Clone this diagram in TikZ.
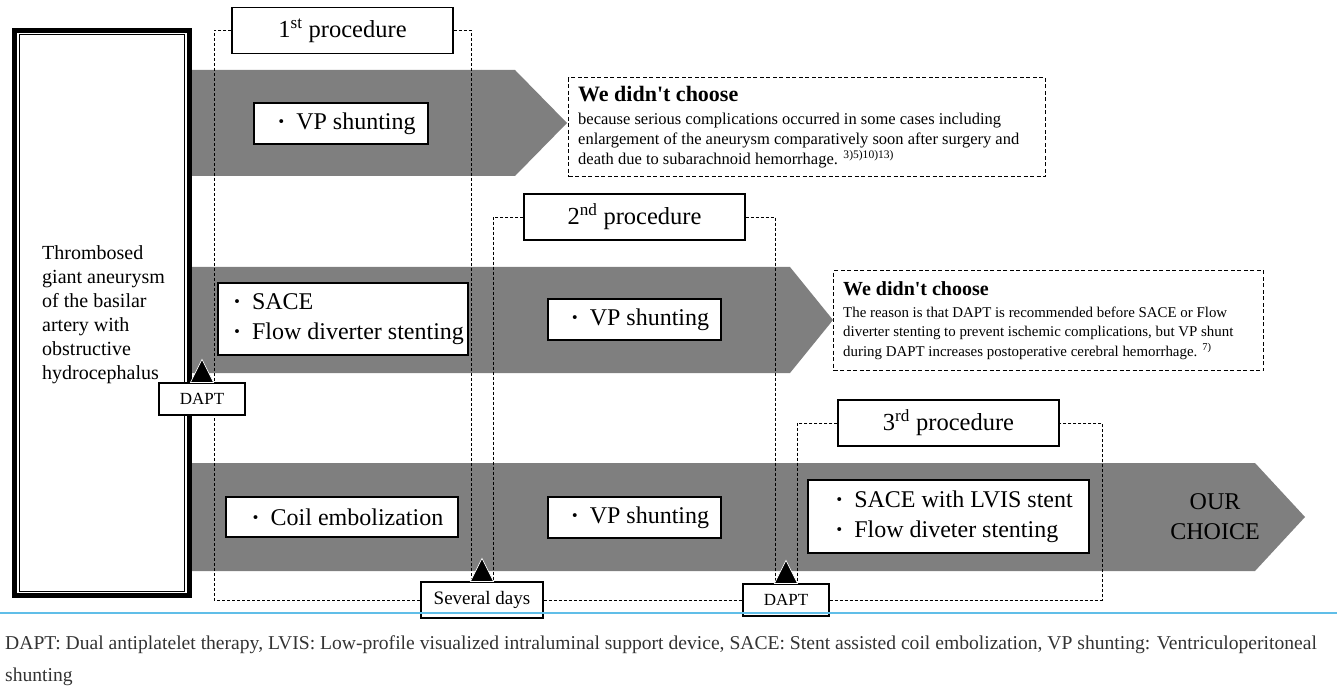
\documentclass[tikz,border=0pt]{standalone}
\usepackage{fontspec}
\setmainfont{Liberation Serif}
\usetikzlibrary{calc,backgrounds}
\definecolor{bandgray}{RGB}{127,127,127}
\definecolor{capblue}{RGB}{96,190,232}
\newcommand{\dotitem}{\makebox[1.25em][c]{\textbf{·}}}

\tikzset{
  procbox/.style={draw, fill=white, line width=1.2pt, minimum width=221, minimum height=46, font=\fontsize{24.5}{28}\selectfont},
  stepitem/.style={draw, fill=white, line width=1.2pt, align=left, font=\fontsize{24}{30}\selectfont},
  tagbox/.style={draw, fill=white, line width=1.2pt, minimum height=32},
  bracket/.style={line width=0.9pt, dash pattern=on 3pt off 2pt},
  whybox/.style={draw, line width=1.2pt, dash pattern=on 4pt off 2.5pt},
  marker/.style={fill=black, draw=white, line width=0.7pt}
}

\begin{document}
\begin{tikzpicture}[x=1pt,y=-1pt]
\useasboundingbox (0,0) rectangle (1337,700);

% grey arrows
\begin{scope}[on background layer]
  \fill[bandgray] (192,70) -- (515,70) -- (567,123) -- (515,176) -- (192,176) -- cycle;
  \fill[bandgray] (192,267) -- (790,267) -- (833,320) -- (790,373) -- (192,373) -- cycle;
  \fill[bandgray] (192,463) -- (1255,463) -- (1305,517) -- (1255,571) -- (192,571) -- cycle;
\end{scope}

% starting situation
\node[draw, line width=5pt, minimum width=175, minimum height=565] (case) at (102,313) {};
\draw[line width=1pt] ($(case.north west)+(7,7)$) rectangle ($(case.south east)+(-8,-7)$);
\node[anchor=west, align=left, inner sep=0, font=\fontsize{20}{24}\selectfont] (casetext) at (42,315)
  {Thrombosed\\giant aneurysm\\of the basilar\\artery with\\obstructive\\hydrocephalus};

% procedures
\node[procbox] (p1) at (342.5,30.5) {1\textsuperscript{st} procedure};
\node[procbox] (p2) at (634.5,217) {2\textsuperscript{nd} procedure};
\node[procbox] (p3) at (948.5,423) {3\textsuperscript{rd} procedure};

% items on the arrows
\node[stepitem, minimum width=174, minimum height=41] (vp1) at (341,123.5) {\dotitem VP shunting};
\node[stepitem, minimum width=250, minimum height=72] (sace) at (343,319) {\dotitem SACE\\\dotitem Flow diverter stenting};
\node[stepitem, minimum width=173, minimum height=41] (vp2) at (634.5,319.5) {\dotitem VP shunting};
\node[stepitem, minimum width=232, minimum height=40] (coil) at (342,517) {\dotitem Coil embolization};
\node[stepitem, minimum width=173, minimum height=41] (vp3) at (634.5,517.5) {\dotitem VP shunting};
\node[stepitem, minimum width=281, minimum height=73] (lvis) at (948.5,516.5) {\dotitem SACE with LVIS stent\\\dotitem Flow diveter stenting};
\node[align=center, font=\fontsize{24}{30}\selectfont] (choice) at (1215,517) {OUR\\CHOICE};

% why not
\node[whybox, minimum width=477, minimum height=99, anchor=north west] (why1) at (568,77) {};
\node[anchor=west, align=left, inner sep=0, font=\fontsize{16.5}{20}\selectfont] (why1txt) at ([xshift=10pt]why1.west)
  {{\fontsize{22}{25}\selectfont\bfseries We didn\textquotesingle t choose}\\[3pt]
   because serious complications occurred in some cases including\\
   enlargement of the aneurysm comparatively soon after surgery and\\
   death due to subarachnoid hemorrhage. \textsuperscript{3)5)10)13)}};
\node[whybox, minimum width=430, minimum height=100, anchor=north west] (why2) at (833,270) {};
\node[anchor=west, align=left, inner sep=0, font=\fontsize{14.9}{19.5}\selectfont] (why2txt) at ([xshift=10pt]why2.west)
  {{\fontsize{20}{23}\selectfont\bfseries We didn\textquotesingle t choose}\\[2pt]
   The reason is that DAPT is recommended before SACE or Flow\\
   diverter stenting to prevent ischemic complications, but VP shunt\\
   during DAPT increases postoperative cerebral hemorrhage. \textsuperscript{7)}};

% timing tags
\node[tagbox, minimum width=86, font=\fontsize{17}{20}\selectfont] (dapt1) at (202,399) {DAPT};
\node[tagbox, minimum width=122, minimum height=36, font=\fontsize{19}{22}\selectfont] (days) at (482,600) {Several days};
\node[tagbox, minimum width=86, font=\fontsize{17}{20}\selectfont] (dapt2) at (786,600) {DAPT};

\foreach \t in {dapt1,days,dapt2}
  \filldraw[marker] ($(\t.north)+(-11.5,0)$) -- ++(11.5,-23) -- ++(11.5,23) -- cycle;

% procedure brackets
\coordinate (c1) at (214,600);
\coordinate (c3) at (1102,600);
\begin{scope}[on background layer]
  \draw[bracket] (p1.west) -| (c1) -- (days.west);
  \draw[bracket] (p1.east) -| ($(days.north)+(-11,0)$);
  \draw[bracket] (p2.west) -| ($(days.north)+(11,0)$);
  \draw[bracket] (p2.east) -| ($(dapt2.north)+(-11,0)$);
  \draw[bracket] (p3.west) -| ($(dapt2.north)+(11,0)$);
  \draw[bracket] (days.east) -- (dapt2.west);
  \draw[bracket] (dapt2.east) -- (c3) |- (p3.east);
\end{scope}

% abbreviations
\draw[capblue, line width=2pt] (0,613) -- (1337,613);
\node[anchor=west, inner sep=0, text=black!80, font=\fontsize{19.6}{24}\selectfont] (cap1) at (5,645)
  {DAPT: Dual antiplatelet therapy, LVIS: Low-profile visualized intraluminal support device, SACE: Stent assisted coil embolization, VP shunting: Ventriculoperitoneal};
\node[anchor=west, inner sep=0, text=black!80, font=\fontsize{19.6}{24}\selectfont] (cap2) at (5,677) {shunting};
\end{tikzpicture}
\end{document}
